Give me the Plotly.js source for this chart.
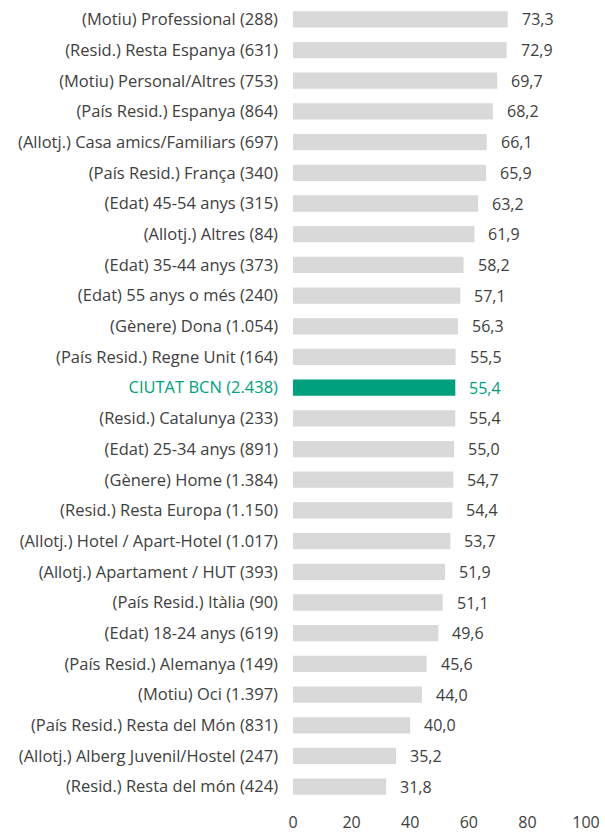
<!DOCTYPE html>
<html><head><meta charset="utf-8">
<script src="https://cdn.plot.ly/plotly-3.0.1.min.js"></script>
<style>html,body{margin:0;padding:0;background:#fff}#chart{width:605px;height:834px}</style>
</head><body><div id="chart"></div>
<script>
const categories = [
  "(Motiu) Professional (288)",
  "(Resid.) Resta Espanya (631)",
  "(Motiu) Personal/Altres (753)",
  "(País Resid.) Espanya (864)",
  "(Allotj.) Casa amics/Familiars (697)",
  "(País Resid.) França (340)",
  "(Edat) 45-54 anys (315)",
  "(Allotj.) Altres (84)",
  "(Edat) 35-44 anys (373)",
  "(Edat) 55 anys o més (240)",
  "(Gènere) Dona (1.054)",
  "(País Resid.) Regne Unit (164)",
  "CIUTAT BCN (2.438)",
  "(Resid.) Catalunya (233)",
  "(Edat) 25-34 anys (891)",
  "(Gènere) Home (1.384)",
  "(Resid.) Resta Europa (1.150)",
  "(Allotj.) Hotel / Apart-Hotel (1.017)",
  "(Allotj.) Apartament / HUT (393)",
  "(País Resid.) Itàlia (90)",
  "(Edat) 18-24 anys (619)",
  "(País Resid.) Alemanya (149)",
  "(Motiu) Oci (1.397)",
  "(País Resid.) Resta del Món (831)",
  "(Allotj.) Alberg Juvenil/Hostel (247)",
  "(Resid.) Resta del món (424)"
];
const values = [73.3,72.9,69.7,68.2,66.1,65.9,63.2,61.9,58.2,57.1,56.3,55.5,55.4,55.4,55.0,54.7,54.4,53.7,51.9,51.1,49.6,45.6,44.0,40.0,35.2,31.8];
const highlight = "CIUTAT BCN (2.438)";
const xTicks = [0,20,40,60,80,100];

const GREY = "#d9d9d9", TEAL = "#00a07f", TXT = "#404040";
const FONT = "'Open Sans', sans-serif";
const barColors = categories.map(c => c === highlight ? TEAL : GREY);
const tickText = categories.map(c => c === highlight ? `<span style="color:${TEAL}">${c}</span>` : c);
const fmt = v => v.toFixed(1).replace(".", ",");

const annotations = categories.map((c, i) => ({
  x: values[i], y: c, xref: "x", yref: "y",
  text: fmt(values[i]), showarrow: false,
  xanchor: "left", yanchor: "middle", xshift: 12,
  font: {family: FONT, size: 16, color: c === highlight ? TEAL : TXT}
}));

Plotly.newPlot("chart", [{
  type: "bar", orientation: "h",
  x: values, y: categories,
  marker: {color: barColors},
  hoverinfo: "none"
}], {
  width: 605, height: 834,
  separators: ",.",
  margin: {l: 293, r: 19, t: 4, b: 32},
  bargap: 0.47,
  showlegend: false,
  annotations: annotations,
  paper_bgcolor: "#fff", plot_bgcolor: "#fff",
  font: {family: FONT, size: 16, color: TXT},
  xaxis: {range: [0, 100], tickvals: xTicks, showgrid: false, zeroline: false, showline: false, ticks: "", fixedrange: true, ticklabelstandoff: 9},
  yaxis: {type: "category", autorange: "reversed", tickvals: categories, ticktext: tickText, tickfont: {size: 16.5}, showgrid: false, zeroline: false, showline: false, ticks: "", ticklabelstandoff: 14}
}, {displayModeBar: false, staticPlot: true});
</script></body></html>
